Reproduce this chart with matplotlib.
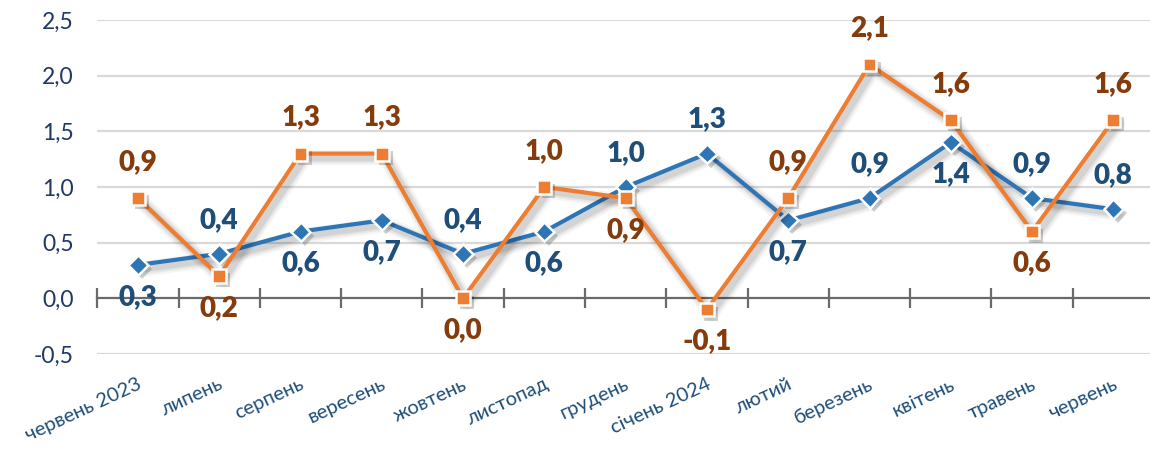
import matplotlib
matplotlib.use("Agg")
import matplotlib.pyplot as plt
import matplotlib.patheffects as pe
import matplotlib.transforms as mtransforms
import numpy as np

plt.rcParams['font.family'] = ['Lato', 'DejaVu Sans']

categories = ["червень 2023", "липень", "серпень", "вересень", "жовтень", "листопад",
              "грудень", "січень 2024", "лютий", "березень", "квітень", "травень", "червень"]
blue_vals = [0.3, 0.4, 0.6, 0.7, 0.4, 0.6, 1.0, 1.3, 0.7, 0.9, 1.4, 0.9, 0.8]
orange_vals = [0.9, 0.2, 1.3, 1.3, 0.0, 1.0, 0.9, -0.1, 0.9, 2.1, 1.6, 0.6, 1.6]
# label placement: +1 above, -1 below
blue_pos = [-1, 1, -1, -1, 1, -1, 1, 1, -1, 1, -1, 1, 1]
orange_pos = [1, -1, 1, 1, -1, 1, -1, -1, 1, 1, 1, -1, 1]
yticks = [-0.5, 0.0, 0.5, 1.0, 1.5, 2.0, 2.5]

BLUE = "#2E75B6"
ORANGE = "#ED7D31"
BLUE_TXT = "#1F4E79"
ORANGE_TXT = "#843C0C"

W, H = 1150, 449
fig = plt.figure(figsize=(W / 100, H / 100), dpi=100)
left_px, right_px = 97.3, 1154
top_px, bot_px = 20, 354
ax = fig.add_axes([left_px / W, (H - bot_px) / H, (right_px - left_px) / W, (bot_px - top_px) / H])

x = np.arange(len(categories))
ax.set_xlim(-0.5, len(categories) - 0.5)
ax.set_ylim(-0.5, 2.5)

# grid
for yv in yticks:
    if yv != 0:
        ax.axhline(yv, color="#D9D9D9", lw=1.6, zorder=0)

def shadow():
    return [pe.SimpleLineShadow(offset=(3, -3), shadow_color="k", alpha=a, linewidth=lw)
            for lw, a in ((11, 0.04), (8, 0.06), (5, 0.08))] + [pe.Normal()]

def mshadow():
    return [pe.SimplePatchShadow(offset=(3, -3), shadow_rgbFace="k", alpha=0.18)] + [pe.Normal()]

ax.plot(x, blue_vals, color=BLUE, lw=3, zorder=3, solid_capstyle="round", path_effects=shadow())
ax.plot(x, blue_vals, ls="none", marker="D", ms=10, mfc=BLUE, mec="white", mew=1.8, zorder=4,
        path_effects=mshadow())
ax.plot(x, orange_vals, color=ORANGE, lw=3, zorder=5, solid_capstyle="round", path_effects=shadow())
ax.plot(x, orange_vals, ls="none", marker="s", ms=10, mfc=ORANGE, mec="white", mew=1.8, zorder=6,
        path_effects=mshadow())

def fmt(v):
    return f"{v:.1f}".replace(".", ",")

for xi, v, p in zip(x, blue_vals, blue_pos):
    ax.annotate(fmt(v), (xi, v), xytext=(0, 34 if p > 0 else -32), textcoords="offset pixels",
                ha="center", va="center", fontsize=20, fontweight="heavy", color=BLUE_TXT,
                zorder=7, annotation_clip=False)
for xi, v, p in zip(x, orange_vals, orange_pos):
    ax.annotate(fmt(v), (xi, v), xytext=(0, 36 if p > 0 else -32), textcoords="offset pixels",
                ha="center", va="center", fontsize=20, fontweight="heavy", color=ORANGE_TXT,
                zorder=7, annotation_clip=False)

# axes styling
for s in ("left", "right", "top"):
    ax.spines[s].set_visible(False)
ax.spines["bottom"].set_position(("data", 0))
ax.spines["bottom"].set_color("#6A6A6A")
ax.spines["bottom"].set_linewidth(1.6)
ax.spines["bottom"].set_zorder(2)

ax.set_xticks(x)
ax.tick_params(axis="x", which="major", length=0, labelbottom=False)
ax.set_xticks(np.arange(-0.5, len(categories), 1.0), minor=True)
ax.tick_params(axis="x", which="minor", direction="inout", length=14, width=1.6, color="#6A6A6A")

ax.set_yticks(yticks)
ax.set_yticklabels([fmt(v) for v in yticks])
ax.tick_params(axis="y", length=0, pad=17, labelsize=16.5, labelcolor="#1F3864")

trans = mtransforms.blended_transform_factory(ax.transData, ax.transAxes)
for xi, c in zip(x, categories):
    ax.text(xi - 0.01, -0.065, c, transform=trans, ha="right", va="top", rotation=25,
            rotation_mode="anchor", fontsize=14.5, color=BLUE_TXT)

fig.savefig("out.png", dpi=100)
